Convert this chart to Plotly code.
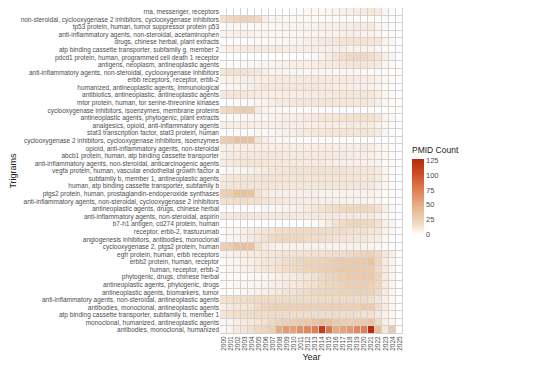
import plotly.graph_objects as go

years = [str(y) for y in range(2000, 2026)]

trigrams = [
    "rna, messenger, receptors",
    "non-steroidal, cyclooxygenase 2 inhibitors, cyclooxygenase inhibitors",
    "tp53 protein, human, tumor suppressor protein p53",
    "anti-inflammatory agents, non-steroidal, acetaminophen",
    "drugs, chinese herbal, plant extracts",
    "atp binding cassette transporter, subfamily g, member 2",
    "pdcd1 protein, human, programmed cell death 1 receptor",
    "antigens, neoplasm, antineoplastic agents",
    "anti-inflammatory agents, non-steroidal, cyclooxygenase inhibitors",
    "erbb receptors, receptor, erbb-2",
    "humanized, antineoplastic agents, immunological",
    "antibiotics, antineoplastic, antineoplastic agents",
    "mtor protein, human, tor serine-threonine kinases",
    "cyclooxygenase inhibitors, isoenzymes, membrane proteins",
    "antineoplastic agents, phytogenic, plant extracts",
    "analgesics, opioid, anti-inflammatory agents",
    "stat3 transcription factor, stat3 protein, human",
    "cyclooxygenase 2 inhibitors, cyclooxygenase inhibitors, isoenzymes",
    "opioid, anti-inflammatory agents, non-steroidal",
    "abcb1 protein, human, atp binding cassette transporter",
    "anti-inflammatory agents, non-steroidal, anticarcinogenic agents",
    "vegfa protein, human, vascular endothelial growth factor a",
    "subfamily b, member 1, antineoplastic agents",
    "human, atp binding cassette transporter, subfamily b",
    "ptgs2 protein, human, prostaglandin-endoperoxide synthases",
    "anti-inflammatory agents, non-steroidal, cyclooxygenase 2 inhibitors",
    "antineoplastic agents, drugs, chinese herbal",
    "anti-inflammatory agents, non-steroidal, aspirin",
    "b7-h1 antigen, cd274 protein, human",
    "receptor, erbb-2, trastuzumab",
    "angiogenesis inhibitors, antibodies, monoclonal",
    "cyclooxygenase 2, ptgs2 protein, human",
    "egfr protein, human, erbb receptors",
    "erbb2 protein, human, receptor",
    "human, receptor, erbb-2",
    "phytogenic, drugs, chinese herbal",
    "antineoplastic agents, phytogenic, drugs",
    "antineoplastic agents, biomarkers, tumor",
    "anti-inflammatory agents, non-steroidal, antineoplastic agents",
    "antibodies, monoclonal, antineoplastic agents",
    "atp binding cassette transporter, subfamily b, member 1",
    "monoclonal, humanized, antineoplastic agents",
    "antibodies, monoclonal, humanized",
]

pmid_counts = [
    [0, 0, 0, 0, 0, 0, 0, 0, 0, 0, 2, 2, 3, 3, 3, 4, 5, 6, 6, 8, 8, 10, 8, 4, 2, 0],
    [15, 18, 22, 24, 22, 18, 6, 4, 4, 3, 3, 3, 3, 2, 2, 2, 2, 2, 2, 2, 2, 2, 1, 1, 0, 0],
    [2, 3, 3, 3, 2, 3, 3, 3, 3, 4, 4, 4, 5, 5, 6, 6, 6, 7, 7, 8, 8, 8, 5, 3, 2, 0],
    [5, 5, 6, 6, 5, 4, 4, 3, 3, 3, 3, 3, 4, 4, 4, 5, 5, 6, 6, 6, 5, 5, 4, 2, 1, 0],
    [1, 1, 1, 1, 2, 2, 2, 3, 3, 3, 4, 5, 6, 7, 8, 9, 10, 12, 13, 14, 14, 12, 10, 5, 3, 0],
    [4, 6, 7, 8, 8, 8, 8, 8, 8, 7, 7, 7, 7, 7, 6, 6, 6, 6, 5, 5, 5, 5, 3, 2, 1, 0],
    [0, 0, 0, 0, 0, 0, 0, 0, 0, 0, 0, 1, 2, 3, 5, 8, 12, 16, 18, 20, 18, 16, 12, 6, 4, 0],
    [2, 2, 2, 3, 3, 3, 4, 4, 5, 5, 6, 6, 6, 7, 8, 8, 9, 10, 11, 12, 12, 10, 8, 4, 2, 0],
    [12, 14, 14, 14, 12, 10, 6, 5, 5, 4, 4, 4, 4, 4, 3, 3, 3, 3, 3, 3, 3, 2, 2, 1, 0, 0],
    [5, 5, 6, 6, 7, 7, 7, 8, 8, 8, 8, 8, 9, 9, 9, 9, 8, 8, 8, 8, 7, 7, 5, 3, 2, 0],
    [2, 3, 4, 5, 6, 8, 10, 10, 10, 10, 10, 10, 10, 10, 8, 8, 7, 7, 6, 6, 6, 5, 4, 2, 1, 0],
    [8, 10, 12, 10, 9, 8, 7, 7, 7, 7, 7, 7, 8, 8, 8, 8, 9, 10, 10, 10, 10, 10, 7, 4, 2, 0],
    [0, 1, 1, 2, 3, 4, 5, 6, 8, 9, 10, 11, 12, 12, 12, 12, 11, 11, 10, 10, 10, 9, 7, 3, 2, 0],
    [18, 20, 28, 30, 28, 8, 4, 3, 3, 2, 2, 2, 2, 2, 2, 1, 1, 1, 1, 1, 1, 1, 1, 0, 0, 0],
    [2, 2, 3, 3, 3, 4, 4, 5, 5, 6, 6, 7, 8, 9, 10, 11, 12, 13, 14, 15, 15, 14, 10, 5, 3, 0],
    [6, 6, 7, 7, 7, 6, 6, 6, 6, 6, 6, 6, 7, 7, 7, 7, 7, 7, 8, 8, 8, 7, 5, 3, 2, 0],
    [0, 1, 1, 2, 2, 3, 3, 4, 5, 6, 7, 8, 9, 10, 10, 11, 11, 12, 12, 12, 12, 11, 8, 4, 2, 0],
    [28, 30, 38, 38, 36, 12, 6, 4, 3, 3, 3, 2, 2, 2, 2, 2, 1, 1, 1, 1, 1, 1, 1, 0, 0, 0],
    [6, 6, 7, 7, 7, 7, 7, 7, 7, 7, 7, 7, 7, 7, 7, 7, 7, 7, 7, 7, 8, 7, 5, 3, 2, 0],
    [6, 8, 9, 10, 10, 10, 10, 10, 10, 9, 9, 9, 9, 8, 8, 8, 8, 8, 7, 7, 7, 6, 5, 3, 2, 0],
    [8, 9, 10, 12, 12, 12, 11, 10, 10, 9, 9, 9, 8, 8, 8, 7, 7, 6, 6, 6, 6, 5, 4, 2, 1, 0],
    [2, 3, 4, 5, 6, 7, 8, 10, 11, 12, 13, 13, 14, 14, 14, 13, 13, 13, 12, 12, 11, 10, 8, 4, 2, 0],
    [8, 10, 12, 12, 13, 13, 13, 13, 13, 12, 12, 12, 12, 12, 12, 12, 12, 12, 12, 12, 11, 10, 8, 4, 2, 0],
    [10, 11, 12, 12, 12, 12, 12, 12, 11, 11, 11, 11, 11, 11, 11, 11, 11, 11, 10, 10, 10, 9, 7, 4, 2, 0],
    [25, 28, 36, 38, 36, 14, 8, 6, 6, 6, 6, 6, 6, 6, 5, 5, 5, 5, 5, 5, 5, 5, 4, 2, 1, 0],
    [14, 15, 16, 16, 15, 14, 12, 11, 10, 9, 8, 8, 7, 7, 6, 6, 6, 5, 5, 5, 5, 4, 3, 2, 1, 0],
    [1, 1, 1, 2, 2, 2, 3, 3, 4, 5, 6, 7, 9, 11, 13, 15, 17, 19, 20, 20, 20, 18, 14, 6, 3, 0],
    [9, 9, 10, 10, 10, 10, 9, 9, 9, 9, 9, 9, 9, 9, 9, 9, 9, 9, 9, 9, 9, 8, 6, 3, 2, 0],
    [0, 0, 0, 0, 0, 0, 0, 0, 0, 0, 0, 0, 1, 2, 4, 8, 14, 18, 20, 22, 20, 18, 14, 6, 4, 0],
    [2, 3, 4, 6, 8, 10, 12, 14, 16, 17, 18, 18, 18, 18, 17, 17, 16, 16, 15, 15, 14, 12, 10, 5, 3, 0],
    [2, 3, 4, 6, 8, 10, 14, 18, 20, 20, 20, 20, 18, 17, 16, 15, 14, 13, 12, 11, 10, 9, 7, 3, 2, 0],
    [26, 28, 36, 38, 36, 15, 8, 6, 5, 5, 5, 5, 5, 5, 5, 5, 5, 5, 5, 5, 5, 4, 3, 2, 1, 0],
    [4, 5, 6, 7, 8, 9, 10, 11, 12, 13, 13, 14, 14, 14, 14, 15, 16, 17, 18, 20, 22, 24, 18, 10, 6, 0],
    [2, 3, 4, 5, 6, 8, 10, 12, 14, 16, 18, 20, 22, 22, 24, 26, 28, 30, 30, 30, 32, 35, 20, 8, 4, 0],
    [2, 3, 4, 5, 6, 8, 10, 12, 14, 16, 18, 20, 22, 24, 26, 28, 30, 32, 32, 32, 30, 28, 18, 8, 4, 0],
    [1, 1, 2, 2, 3, 3, 4, 5, 6, 7, 8, 10, 12, 15, 18, 22, 25, 28, 30, 30, 32, 30, 22, 8, 4, 0],
    [2, 2, 3, 3, 4, 4, 5, 6, 7, 8, 9, 11, 13, 15, 18, 20, 22, 24, 26, 26, 28, 26, 20, 8, 4, 0],
    [1, 1, 2, 3, 4, 5, 6, 8, 10, 12, 14, 16, 18, 20, 20, 22, 22, 24, 24, 25, 26, 24, 18, 8, 4, 0],
    [14, 15, 16, 17, 18, 18, 18, 18, 18, 18, 18, 18, 18, 18, 18, 18, 18, 18, 18, 18, 18, 16, 12, 6, 3, 0],
    [6, 8, 10, 12, 14, 18, 22, 24, 26, 26, 26, 26, 26, 26, 26, 26, 26, 26, 26, 26, 32, 28, 16, 8, 4, 0],
    [12, 14, 16, 16, 17, 17, 17, 17, 17, 17, 17, 17, 17, 17, 17, 17, 17, 17, 16, 16, 15, 14, 10, 5, 3, 0],
    [3, 4, 6, 8, 10, 12, 14, 18, 22, 25, 28, 30, 32, 36, 40, 38, 30, 28, 28, 30, 32, 34, 18, 6, 4, 0],
    [3, 5, 8, 12, 15, 18, 20, 25, 50, 60, 55, 65, 70, 75, 115, 80, 50, 55, 60, 70, 75, 125, 40, 10, 30, 0],
]

colorscale = [
    [0.0, "#ffffff"],
    [0.06, "#f9ebe0"],
    [0.16, "#f0d6bb"],
    [0.3, "#e9c099"],
    [0.45, "#e59e75"],
    [0.62, "#dc784c"],
    [0.8, "#cc4e28"],
    [1.0, "#b52810"],
]

fig = go.Figure(
    go.Heatmap(
        z=pmid_counts,
        x=years,
        y=trigrams,
        colorscale=colorscale,
        zmin=0,
        zmax=128,
        xgap=1,
        ygap=1,
        colorbar=dict(
            title=dict(text="PMID Count", side="top", font=dict(size=8.5, color="#222222")),
            thickness=12,
            len=90,
            lenmode="pixels",
            x=1.0,
            xanchor="left",
            xpad=9,
            y=0.445,
            yanchor="middle",
            tickvals=[0, 25, 50, 75, 100, 125],
            tickfont=dict(size=7.5, color="#4d4d4d"),
            outlinewidth=0,
            ticks="",
            ypad=0,
        ),
    )
)

fig.update_layout(
    width=550,
    height=365,
    margin=dict(l=212, r=155, t=0, b=39),
    paper_bgcolor="white",
    plot_bgcolor="#d2d2d2",
    font=dict(family="Liberation Sans, Arial, sans-serif", color="#4d4d4d"),
)
fig.update_xaxes(
    title=dict(text="Year", font=dict(size=9, color="#222222"), standoff=3),
    tickangle=-90,
    tickmode="array",
    tickvals=years,
    ticktext=years,
    tickfont=dict(size=6.5, color="#4d4d4d"),
    showgrid=False,
    zeroline=False,
    ticks="",
    automargin=False,
)
fig.update_yaxes(
    title=dict(text="Trigrams", font=dict(size=9, color="#222222"), standoff=3),
    autorange="reversed",
    tickmode="array",
    tickvals=trigrams,
    ticktext=trigrams,
    tickfont=dict(size=6.5, color="#4d4d4d"),
    showgrid=False,
    zeroline=False,
    ticks="",
    automargin=False,
)

fig.write_html("out.html")
